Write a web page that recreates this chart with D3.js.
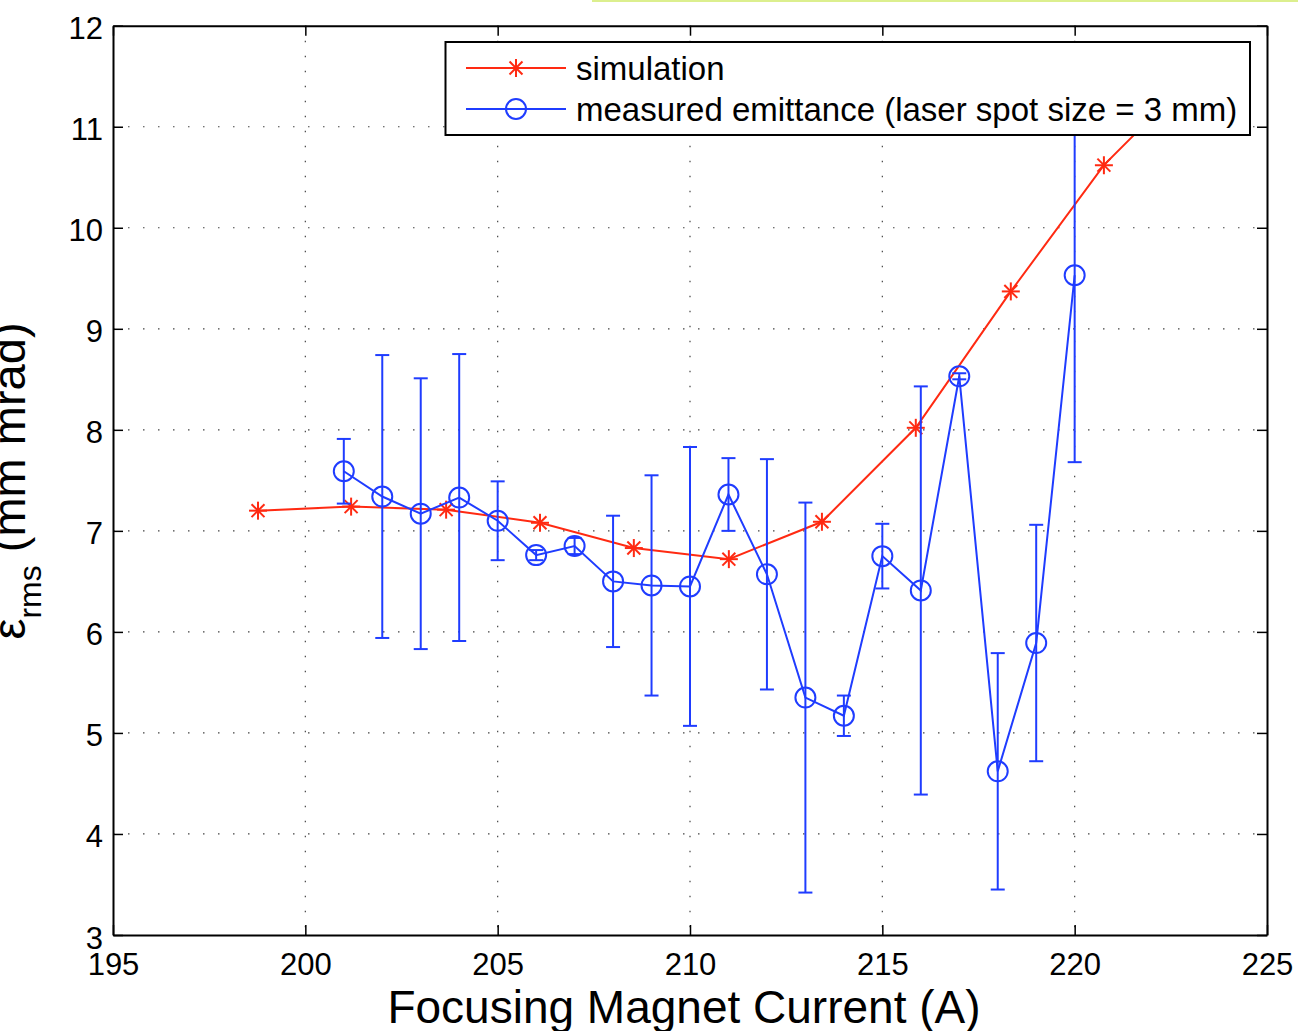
<!DOCTYPE html>
<html>
<head>
<meta charset="utf-8">
<script src="https://cdn.jsdelivr.net/npm/d3@7"></script>
<style>
  html, body { margin: 0; padding: 0; background: #fff; overflow: hidden; }
  svg { display: block; font-family: "Liberation Sans", Arial, Helvetica, sans-serif; }
</style>
</head>
<body>
<svg id="chart" width="1298" height="1031"></svg>
<script>
// ---- data ----
const xTicks = [195, 200, 205, 210, 215, 220, 225];
const yTicks = [3, 4, 5, 6, 7, 8, 9, 10, 11, 12];

const simCurrent = [198.77, 201.19, 203.66, 206.10, 208.54, 211.01, 213.43, 215.87, 218.34, 220.76, 223.2];
const simEmittance = [7.20, 7.24, 7.21, 7.08, 6.83, 6.72, 7.09, 8.02, 9.37, 10.62, 11.55];

const measCurrent = [201, 202, 203, 204, 205, 206, 207, 208, 209, 210, 211, 212, 213, 214, 215, 216, 217, 218, 219, 220];
const measEmittance = [7.59, 7.34, 7.17, 7.33, 7.10, 6.76, 6.85, 6.50, 6.46, 6.45, 7.36, 6.57, 5.35, 5.17, 6.75, 6.41, 8.53, 4.62, 5.89, 9.53];
const measError = [0.32, 1.40, 1.34, 1.42, 0.39, 0.05, 0.08, 0.65, 1.09, 1.38, 0.36, 1.14, 1.93, 0.20, 0.32, 2.02, 0.03, 1.17, 1.17, 1.85];

const legendLabels = ["simulation", "measured emittance (laser spot size = 3 mm)"];
const xLabel = "Focusing Magnet Current (A)";

// ---- layout ----
const RED = "#ff2a12";
const BLUE = "#1f3cff";
const L = 113, R = 1267, T = 25.7, B = 935;

const svg = d3.select("#chart");
const x = d3.scaleLinear().domain([195, 225]).range([L, R]);
const y = d3.scaleLinear().domain([3, 12]).range([B, T]);

// decorative strip at top
svg.append("rect").attr("x", 592).attr("y", 0).attr("width", 706).attr("height", 2).attr("fill", "#dcef8e");

svg.append("defs").append("clipPath").attr("id", "plotclip")
  .append("rect").attr("x", L).attr("y", T).attr("width", R - L).attr("height", B - T);

// grid
const grid = svg.append("g").attr("stroke", "#444").attr("stroke-width", 1.2).attr("stroke-dasharray", "1.5,13.5");
grid.selectAll("line.gx").data(xTicks.filter(d => d > 195 && d < 225)).join("line")
  .attr("x1", d => x(d)).attr("x2", d => x(d)).attr("y1", T).attr("y2", B);
grid.selectAll("line.gy").data(yTicks.filter(d => d > 3 && d < 12)).join("line")
  .attr("class", "gy")
  .attr("x1", L).attr("x2", R).attr("y1", d => y(d)).attr("y2", d => y(d));

// data layer
const plot = svg.append("g").attr("clip-path", "url(#plotclip)");

// simulation line
plot.append("path")
  .datum(simCurrent.map((c, i) => [c, simEmittance[i]]))
  .attr("fill", "none").attr("stroke", RED).attr("stroke-width", 2)
  .attr("d", d3.line().x(d => x(d[0])).y(d => y(d[1])));

function asterisk(g, cx, cy, s, color) {
  const d = s * 0.72;
  const segs = [[0, -s, 0, s], [-s, 0, s, 0], [-d, -d, d, d], [-d, d, d, -d]];
  segs.forEach(p => g.append("line")
    .attr("x1", cx + p[0]).attr("y1", cy + p[1]).attr("x2", cx + p[2]).attr("y2", cy + p[3])
    .attr("stroke", color).attr("stroke-width", 2));
}
simCurrent.forEach((c, i) => asterisk(plot, x(c), y(simEmittance[i]), 9, RED));

// measured error bars
const eb = plot.append("g").attr("stroke", BLUE).attr("stroke-width", 2).attr("fill", "none");
measCurrent.forEach((c, i) => {
  const cx = x(c), lo = y(measEmittance[i] - measError[i]), hi = y(measEmittance[i] + measError[i]);
  eb.append("line").attr("x1", cx).attr("x2", cx).attr("y1", lo).attr("y2", hi);
  eb.append("line").attr("x1", cx - 7).attr("x2", cx + 7).attr("y1", lo).attr("y2", lo);
  eb.append("line").attr("x1", cx - 7).attr("x2", cx + 7).attr("y1", hi).attr("y2", hi);
});

// measured line
plot.append("path")
  .datum(measCurrent.map((c, i) => [c, measEmittance[i]]))
  .attr("fill", "none").attr("stroke", BLUE).attr("stroke-width", 2)
  .attr("d", d3.line().x(d => x(d[0])).y(d => y(d[1])));

plot.selectAll("circle.m").data(measCurrent.map((c, i) => [c, measEmittance[i]])).join("circle")
  .attr("cx", d => x(d[0])).attr("cy", d => y(d[1])).attr("r", 10)
  .attr("fill", "none").attr("stroke", BLUE).attr("stroke-width", 2);

// axes
const fmt = d3.format("d");
function styleAxis(g) {
  g.select(".domain").attr("stroke", "#000").attr("stroke-width", 2);
  g.selectAll(".tick line").attr("stroke", "#000").attr("stroke-width", 1.5);
  g.selectAll(".tick text").attr("fill", "#000").attr("font-size", 31);
}
svg.append("g").attr("transform", `translate(0,${B})`)
  .call(d3.axisBottom(x).tickValues(xTicks).tickFormat(fmt).tickSizeInner(-10).tickSizeOuter(0).tickPadding(18))
  .call(styleAxis).attr("font-family", null);
svg.append("g").attr("transform", `translate(0,${T})`)
  .call(d3.axisTop(x).tickValues(xTicks).tickFormat("").tickSizeInner(-10).tickSizeOuter(0))
  .call(styleAxis);
const yAx = svg.append("g").attr("transform", `translate(${L},0)`)
  .call(d3.axisLeft(y).tickValues(yTicks).tickFormat(fmt).tickSizeInner(-10).tickSizeOuter(0).tickPadding(10))
  .call(styleAxis).attr("font-family", null);
yAx.selectAll(".tick text").attr("dy", "0.42em");
svg.append("g").attr("transform", `translate(${R},0)`)
  .call(d3.axisRight(y).tickValues(yTicks).tickFormat("").tickSizeInner(-10).tickSizeOuter(0))
  .call(styleAxis);
svg.selectAll("g.tick text").attr("font-family", "Liberation Sans, Arial, Helvetica, sans-serif");

// axis labels
svg.append("text").attr("x", 684).attr("y", 1023).attr("text-anchor", "middle")
  .attr("font-size", 46).attr("fill", "#000").text(xLabel);

const yl = svg.append("text").attr("transform", "translate(25,481) rotate(-90)")
  .attr("text-anchor", "middle").attr("font-size", 47).attr("fill", "#000");
yl.append("tspan").text("ε");
yl.append("tspan").attr("font-size", 32).attr("dy", 16).text("rms");
yl.append("tspan").attr("dy", -16).text(" (mm mrad)");

// legend
const lg = svg.append("g");
lg.append("rect").attr("x", 445.5).attr("y", 42).attr("width", 804.5).attr("height", 93)
  .attr("fill", "#fff").attr("stroke", "#000").attr("stroke-width", 2);
const rows = [68, 109];
const colors = [RED, BLUE];
rows.forEach((ry, i) => {
  lg.append("line").attr("x1", 466).attr("x2", 566).attr("y1", ry).attr("y2", ry)
    .attr("stroke", colors[i]).attr("stroke-width", 2);
  if (i === 0) asterisk(lg, 516, ry, 9, RED);
  else lg.append("circle").attr("cx", 516).attr("cy", ry).attr("r", 10)
    .attr("fill", "none").attr("stroke", BLUE).attr("stroke-width", 2);
  lg.append("text").attr("x", 576).attr("y", ry + 12).attr("font-size", 33).attr("fill", "#000")
    .text(legendLabels[i]);
});
</script>
</body>
</html>
